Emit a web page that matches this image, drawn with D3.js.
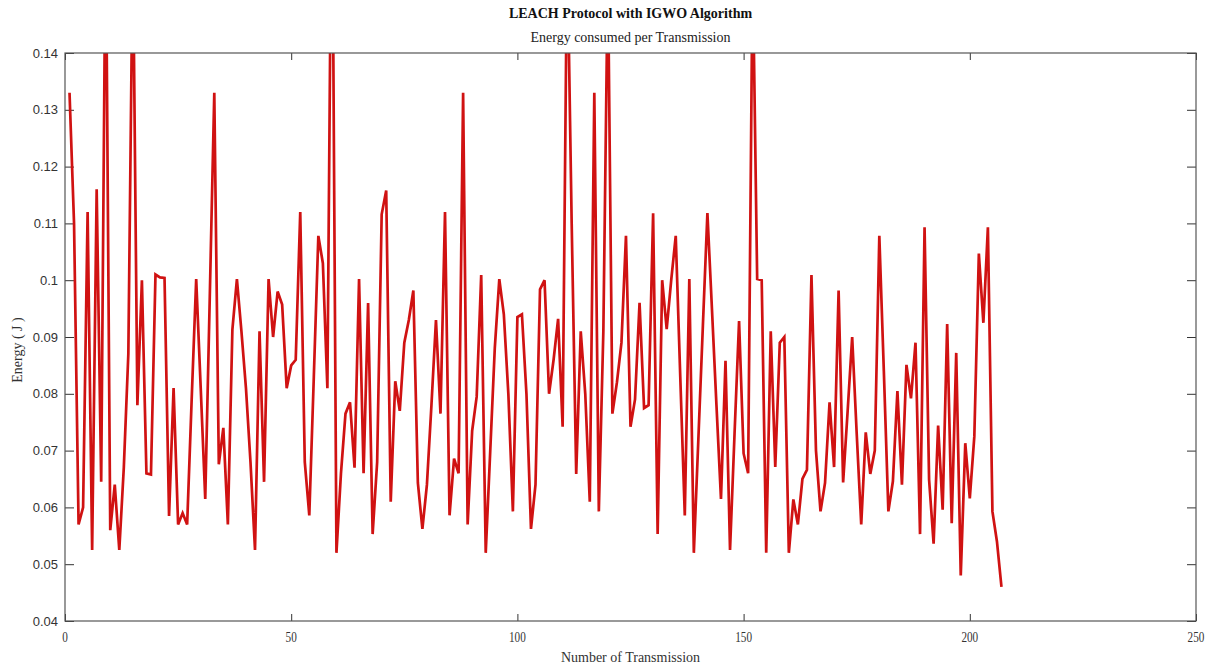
<!DOCTYPE html>
<html><head><meta charset="utf-8">
<script src="https://cdn.jsdelivr.net/npm/d3@7"></script>
<style>body{margin:0;background:#fff;} svg{display:block;}</style>
</head><body>
<svg id="chart" width="1211" height="667"></svg>
<script>
const energy = [
0.133,0.110,0.057,0.060,0.112,0.0525,0.116,0.0645,0.165,0.056,
0.064,0.0525,0.067,0.087,0.160,0.078,0.100,0.066,0.0658,0.101,
0.1005,0.1004,0.0585,0.081,0.057,0.059,0.057,0.079,0.1002,0.081,
0.0615,0.097,0.133,0.0676,0.074,0.057,0.0913,0.1002,0.091,0.081,
0.068,0.0525,0.091,0.0645,0.1002,0.090,0.098,0.0957,0.081,0.085,
0.086,0.112,0.068,0.0586,0.083,0.1078,0.103,0.081,0.180,0.052,
0.066,0.0765,0.0785,0.067,0.1002,0.066,0.096,0.0553,0.068,0.1116,
0.1158,0.061,0.0822,0.077,0.089,0.093,0.0982,0.0643,0.0562,0.064,
0.078,0.093,0.0765,0.112,0.0586,0.0686,0.066,0.133,0.057,0.0735,
0.0795,0.1009,0.052,0.070,0.088,0.1002,0.094,0.080,0.0593,0.0935,
0.094,0.080,0.0562,0.064,0.0984,0.100,0.080,0.086,0.0932,0.0742,
0.160,0.110,0.0659,0.091,0.080,0.061,0.133,0.0593,0.091,0.155,
0.0765,0.082,0.089,0.1078,0.0742,0.079,0.096,0.0775,0.078,0.1118,
0.0553,0.100,0.0914,0.100,0.1078,0.083,0.0586,0.1002,0.052,0.072,
0.092,0.1118,0.095,0.078,0.0615,0.0858,0.0525,0.073,0.0928,0.0695,
0.066,0.156,0.1002,0.100,0.052,0.091,0.0671,0.089,0.090,0.052,
0.0614,0.057,0.065,0.0666,0.1009,0.070,0.0593,0.0643,0.0785,0.0671,
0.0982,0.0644,0.077,0.090,0.073,0.057,0.0732,0.0659,0.070,0.1078,
0.084,0.0593,0.0646,0.0805,0.064,0.0851,0.0792,0.089,0.0553,0.1093,
0.0649,0.0536,0.0744,0.0596,0.0923,0.0572,0.0872,0.048,0.0713,0.0616,
0.0725,0.1047,0.0925,0.1093,0.0593,0.054,0.046
];
const transmissions = energy.map((d, i) => i + 1);
const xTicks = [0, 50, 100, 150, 200, 250];
const xTickLabels = ["0", "50", "100", "150", "200", "250"];
const yTicks = [0.04, 0.05, 0.06, 0.07, 0.08, 0.09, 0.10, 0.11, 0.12, 0.13, 0.14];
const yTickLabels = ["0.04", "0.05", "0.06", "0.07", "0.08", "0.09", "0.1", "0.11", "0.12", "0.13", "0.14"];
const titleText = "LEACH Protocol with IGWO Algorithm";
const subtitleText = "Energy consumed per Transmission";
const xLabelText = "Number of Transmission";
const yLabelText = "Energy ( J )";

const svg = d3.select("#chart");
const L = 65, R = 1196, T = 53, B = 621;
const x = d3.scaleLinear().domain([0, 250]).range([L, R]);
const y = d3.scaleLinear().domain([0.04, 0.14]).range([B, T]);

svg.append("defs").append("clipPath").attr("id", "plotclip")
  .append("rect").attr("x", L).attr("y", T).attr("width", R - L).attr("height", B - T);

svg.append("rect").attr("x", L).attr("y", T).attr("width", R - L).attr("height", B - T)
  .attr("fill", "#fff");

const tickColor = "#333";
const gB = svg.append("g").attr("transform", `translate(0,${B})`)
  .call(d3.axisBottom(x).tickValues(xTicks).tickSize(-7).tickFormat(() => ""));
const gT = svg.append("g").attr("transform", `translate(0,${T})`)
  .call(d3.axisTop(x).tickValues(xTicks).tickSize(-7).tickFormat(() => ""));
const gL = svg.append("g").attr("transform", `translate(${L},0)`)
  .call(d3.axisLeft(y).tickValues(yTicks).tickSize(-9).tickFormat(() => ""));
const gR = svg.append("g").attr("transform", `translate(${R},0)`)
  .call(d3.axisRight(y).tickValues(yTicks).tickSize(-9).tickFormat(() => ""));
[gB, gT, gL, gR].forEach(g => {
  g.select(".domain").remove();
  g.selectAll(".tick line").attr("stroke", tickColor).attr("stroke-width", 1);
});

svg.append("g").selectAll("text").data(xTicks).join("text")
  .attr("transform", (d) => `translate(${x(d)},${642}) scale(0.8,1)`)
  .attr("text-anchor", "middle")
  .attr("font-family", "Liberation Serif, serif")
  .attr("font-size", 14)
  .attr("fill", "#333")
  .text((d, i) => xTickLabels[i]);

svg.append("g").selectAll("text").data(yTicks).join("text")
  .attr("x", L - 7).attr("y", d => y(d) + 4.5)
  .attr("text-anchor", "end")
  .attr("font-family", "Liberation Sans, Arial, sans-serif")
  .attr("font-size", 13)
  .attr("fill", "#333")
  .text((d, i) => yTickLabels[i]);

const line = d3.line().x((d, i) => x(transmissions[i])).y(d => y(d));
svg.append("path").datum(energy)
  .attr("clip-path", "url(#plotclip)")
  .attr("fill", "none")
  .attr("stroke", "#d01212")
  .attr("stroke-width", 2.7)
  .attr("stroke-linejoin", "miter")
  .attr("stroke-miterlimit", 4)
  .attr("d", line);

svg.append("rect").attr("x", L).attr("y", T).attr("width", R - L).attr("height", B - T)
  .attr("fill", "none").attr("stroke", "#555").attr("stroke-width", 1.2);

svg.append("text").attr("x", (L + R) / 2).attr("y", 18)
  .attr("text-anchor", "middle").attr("font-family", "Liberation Serif, serif")
  .attr("font-weight", "bold").attr("font-size", 14).attr("fill", "#111")
  .text(titleText);
svg.append("text").attr("x", (L + R) / 2).attr("y", 42)
  .attr("text-anchor", "middle").attr("font-family", "Liberation Serif, serif")
  .attr("font-size", 14).attr("fill", "#222")
  .text(subtitleText);
svg.append("text").attr("x", (L + R) / 2).attr("y", 662)
  .attr("text-anchor", "middle").attr("font-family", "Liberation Serif, serif")
  .attr("font-size", 14).attr("fill", "#333")
  .text(xLabelText);
svg.append("text").attr("transform", `translate(22,350) rotate(-90)`)
  .attr("text-anchor", "middle").attr("font-family", "Liberation Serif, serif")
  .attr("font-size", 14).attr("fill", "#333")
  .text(yLabelText);
</script>
</body></html>
